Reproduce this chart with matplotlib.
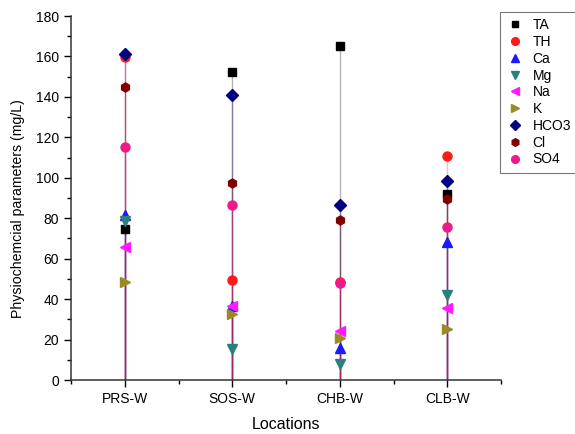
import matplotlib
matplotlib.use("Agg")
import matplotlib.pyplot as plt
from matplotlib.ticker import MultipleLocator

plt.rcParams['font.family'] = ['Liberation Sans', 'DejaVu Sans']

locations = ["PRS-W", "SOS-W", "CHB-W", "CLB-W"]
TA = [74.5, 152.3, 165.2, 91.8]
TH = [159.7, 49.5, 48.3, 110.9]
Ca = [81.4, 36.6, 16.0, 68.1]
Mg = [78.8, 15.2, 7.9, 42.0]
Na = [65.9, 36.6, 24.4, 35.8]
K = [48.6, 32.6, 20.9, 25.1]
HCO3 = [161.1, 140.8, 86.4, 98.2]
Cl = [144.8, 97.3, 79.1, 89.4]
SO4 = [115.4, 86.5, 48.1, 75.8]

series = [
    ("TA", TA, "s", "#000000"),
    ("TH", TH, "o", "#ff1a1a"),
    ("Ca", Ca, "^", "#1a1aff"),
    ("Mg", Mg, "v", "#2a8080"),
    ("Na", Na, "<", "#ff1aff"),
    ("K", K, ">", "#9a8a22"),
    ("HCO3", HCO3, "D", "#000080"),
    ("Cl", Cl, "h", "#800000"),
    ("SO4", SO4, "o", "#ee1a8a"),
]

fig = plt.figure(figsize=(5.75, 4.34), dpi=100)
ax = fig.add_axes([0.1235, 0.1244, 0.7478, 0.8386])

x = [1, 2, 3, 4]
# faint drop lines from each point down to zero
for i, (name, vals, mk, col) in enumerate(series):
    ax.vlines(x, 0, vals, colors=col, alpha=0.3, lw=1.0, zorder=1 + i * 0.01)
for i, (name, vals, mk, col) in enumerate(series):
    ms = 5.8 if mk in ("s", "D") else 6.5
    ax.plot(x, vals, linestyle="none", marker=mk, color=col, ms=ms,
            label=name, zorder=3 + i * 0.01)

ax.set_xlim(0.5, 4.5)
ax.set_ylim(0, 180)
ax.set_xticks(x)
ax.set_xticklabels(locations, fontsize=10)
ax.xaxis.set_minor_locator(MultipleLocator(0.5))
ax.yaxis.set_major_locator(MultipleLocator(20))
ax.yaxis.set_minor_locator(MultipleLocator(10))
ax.tick_params(axis="both", which="major", direction="out", length=5, width=1, labelsize=10)
ax.tick_params(axis="both", which="minor", direction="out", length=3, width=1)
ax.spines["top"].set_visible(False)
ax.spines["right"].set_visible(False)
for s in ("left", "bottom"):
    ax.spines[s].set_linewidth(1.1)
    ax.spines[s].set_color("#333333")

ax.set_xlabel("Locations", fontsize=11.5, labelpad=8)
ax.set_ylabel("Physiochemcial parameters (mg/L)", fontsize=10.2)
ax.yaxis.set_label_coords(-0.108, 0.47)

leg = ax.legend(loc="upper left", bbox_to_anchor=(500 / 575, 1 - 12 / 434),
                bbox_transform=fig.transFigure, fontsize=10, frameon=True,
                fancybox=False, edgecolor="#555555", labelspacing=0.2,
                handlelength=1.2, handletextpad=0.7, borderpad=0.45,
                borderaxespad=0, markerscale=0.85)
leg.get_frame().set_linewidth(0.8)

fig.savefig("out.png", dpi=100)
